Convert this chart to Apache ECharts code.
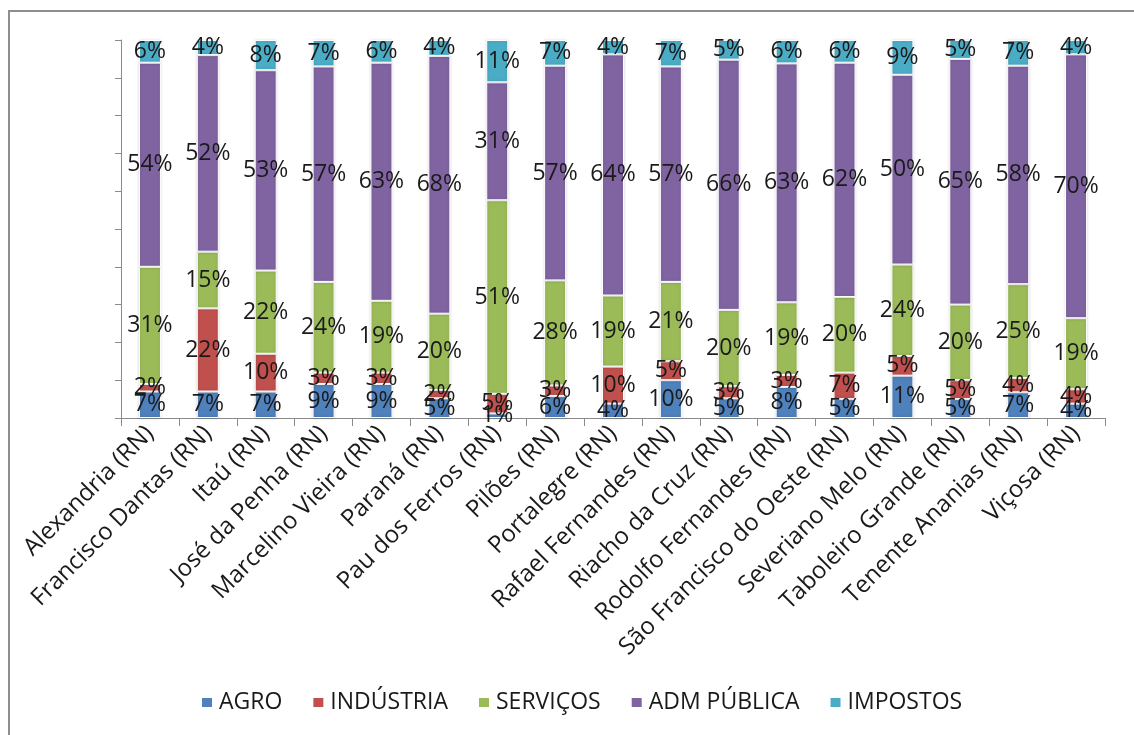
<!DOCTYPE html>
<html>
<head>
<meta charset="utf-8">
<script src="https://cdn.jsdelivr.net/npm/echarts@6/dist/echarts.min.js"></script>
<style>
  html, body { margin: 0; padding: 0; background: #fff; }
  #chart { width: 1134px; height: 735px; }
</style>
</head>
<body>
<div id="chart"></div>
<script>
// Municipalities (RN) and the share of each sector in local value added, in %
// (shares carry one decimal; labels show them rounded to whole percent)
const municipios = [
  'Alexandria (RN)', 'Francisco Dantas (RN)', 'Itaú (RN)', 'José da Penha (RN)',
  'Marcelino Vieira (RN)', 'Paraná (RN)', 'Pau dos Ferros (RN)', 'Pilões (RN)',
  'Portalegre (RN)', 'Rafael Fernandes (RN)', 'Riacho da Cruz (RN)',
  'Rodolfo Fernandes (RN)', 'São Francisco do Oeste (RN)', 'Severiano Melo (RN)',
  'Taboleiro Grande (RN)', 'Tenente Ananias (RN)', 'Viçosa (RN)'
];
const agro       = [7, 7, 7, 9, 9, 5.2, 1.2, 5.8, 3.8, 10, 5.2, 8.2, 5, 11.2, 5, 6.8, 3.8];
const industria  = [2, 22, 10, 3, 3, 2.2, 5.2, 2.8, 9.8, 5, 3.2, 3.2, 7, 5.2, 5, 3.8, 3.8];
const servicos   = [31, 15, 22, 24, 19, 20.2, 51.2, 27.8, 18.8, 21, 20.2, 19.2, 20, 24.2, 20, 24.8, 18.8];
const admPublica = [54, 52, 53, 57, 63, 68.2, 31.2, 56.8, 63.8, 57, 66.2, 63.2, 62, 50.2, 65, 57.8, 69.8];
const impostos   = [6, 4, 8, 7, 6, 4.2, 11.2, 6.8, 3.8, 7, 5.2, 6.2, 6, 9.2, 5, 6.8, 3.8];

const seriesNames = ['AGRO', 'INDÚSTRIA', 'SERVIÇOS', 'ADM PÚBLICA', 'IMPOSTOS'];
const seriesData = [agro, industria, servicos, admPublica, impostos];
const colors = ['#4F81BD', '#C0504D', '#9BBB59', '#8064A2', '#4BACC6'];

const FONT = '"Open Sans", Lato, sans-serif';
const TEXT = '#1a1a1a';

const chart = echarts.init(document.getElementById('chart'), null, { renderer: 'canvas' });

chart.setOption({
  animation: false,
  color: colors,
  textStyle: { fontFamily: FONT },
  graphic: [{
    type: 'rect',
    shape: { x: 9, y: 11, width: 1200, height: 800 },
    style: { fill: 'none', stroke: '#8e8e8e', lineWidth: 2 },
    silent: true
  }],
  grid: { left: 121, right: 29, top: 40, bottom: 317, containLabel: false },
  legend: {
    data: seriesNames,
    bottom: 16,
    left: 195,
    icon: 'rect',
    itemWidth: 12,
    itemHeight: 11,
    itemGap: 29,
    textStyle: { fontFamily: FONT, fontSize: 23, color: TEXT, padding: [0, 0, 0, 1] }
  },
  xAxis: {
    type: 'category',
    data: municipios,
    boundaryGap: true,
    axisLine: { lineStyle: { color: '#8a8a8a', width: 1 } },
    axisTick: { show: true, alignWithLabel: false, length: 8, lineStyle: { color: '#8a8a8a' } },
    axisLabel: {
      rotate: 45,
      interval: 0,
      margin: 12,
      fontFamily: FONT,
      fontSize: 24,
      color: TEXT
    }
  },
  yAxis: {
    type: 'value',
    min: 0,
    max: 100,
    interval: 10,
    axisLine: { show: true, lineStyle: { color: '#8a8a8a', width: 1 } },
    axisTick: { show: true, length: 6, lineStyle: { color: '#8a8a8a' } },
    axisLabel: { show: false },
    splitLine: { show: false }
  },
  series: seriesNames.map((name, k) => ({
    name,
    type: 'bar',
    stack: 'total',
    barWidth: 22,
    data: seriesData[k],
    itemStyle: {
      borderColor: '#ffffff',
      borderWidth: 1,
      shadowColor: 'rgba(0,0,0,0.18)',
      shadowBlur: 3
    },
    label: {
      show: true,
      position: 'inside',
      formatter: p => Math.round(p.value) + '%',
      fontFamily: FONT,
      fontSize: 23,
      color: TEXT
    }
  }))
});
</script>
</body>
</html>
